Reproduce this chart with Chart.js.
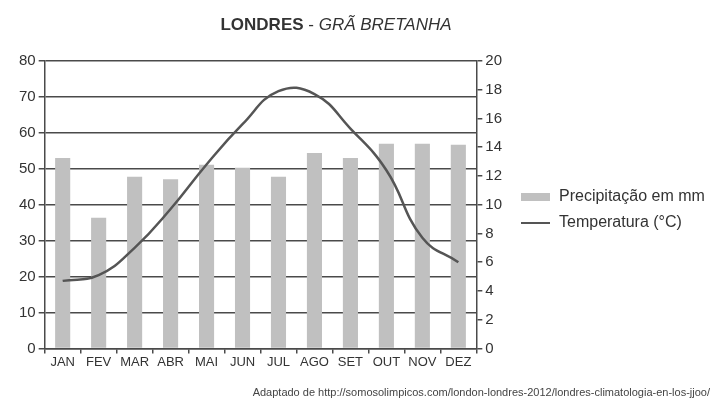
<!DOCTYPE html>
<html>
<head>
<meta charset="utf-8">
<script src="https://cdn.jsdelivr.net/npm/chart.js@4/dist/chart.umd.min.js"></script>
<style>
  body { margin: 0; background: #fff; }
  #wrap { position: relative; width: 712px; height: 402px; font-family: "Liberation Sans", Arial, sans-serif; color: #333; }
  #title { position: absolute; top: 15px; left: 0; width: 672px; text-align: center; font-size: 17px; }
  #source { position: absolute; right: 2px; top: 386px; font-size: 11px; color: #444; }
  .legend { position: absolute; left: 521px; font-size: 16px; color: #333; white-space: nowrap; }
  .legend span { display: inline-block; width: 29px; margin-right: 9px; vertical-align: middle; }
  .legend .box { height: 8px; background: #c0c0c0; }
  .legend .line { height: 2.5px; background: #555; }
</style>
</head>
<body>
<div id="wrap">
  <canvas id="climaChart" width="712" height="402"></canvas>
  <div id="title"><b>LONDRES</b> - <i>GRÃ BRETANHA</i></div>
  <div class="legend" style="top:187px"><span class="box"></span>Precipitação em mm</div>
  <div class="legend" style="top:213px"><span class="line"></span>Temperatura (°C)</div>
  <div id="source">Adaptado de http://somosolimpicos.com/london-londres-2012/londres-climatologia-en-los-jjoo/</div>
</div>
<script>
const months = ['JAN', 'FEV', 'MAR', 'ABR', 'MAI', 'JUN', 'JUL', 'AGO', 'SET', 'OUT', 'NOV', 'DEZ'];
const precipitation = [53, 36.4, 47.8, 47.1, 51.1, 50.3, 47.8, 54.4, 53, 57, 57, 56.7];
const temperature = [4.7, 5.1, 7.0, 9.7, 12.8, 15.6, 17.9, 17.7, 15.3, 12.4, 7.7, 6.0];
const precipTicks = [0, 10, 20, 30, 40, 50, 60, 70, 80];
const tempTicks = [0, 2, 4, 6, 8, 10, 12, 14, 16, 18, 20];

const ctx = document.getElementById('climaChart');
const gridColor = '#4a4a4a';
const font = { family: '"Liberation Sans", Arial, sans-serif', size: 15 };

new Chart(ctx, {
    data: {
        labels: months,
        datasets: [{
            type: 'line',
            label: 'Temperatura (°C)',
            data: temperature,
            yAxisID: 'yTemp',
            borderColor: '#555',
            borderWidth: 2.5,
            pointRadius: 0,
            tension: 0.45,
            order: 0
        }, {
            type: 'bar',
            label: 'Precipitação em mm',
            data: precipitation,
            yAxisID: 'yPrec',
            backgroundColor: '#c0c0c0',
            barPercentage: 0.42,
            categoryPercentage: 1,
            order: 1
        }]
    },
    options: {
        responsive: false,
        animation: false,
        layout: { padding: { top: 61, bottom: 31, left: 16, right: 207 } },
        plugins: {
            legend: { display: false },
            tooltip: { enabled: false }
        },
        scales: {
            x: {
                offset: true,
                grid: { offset: true, drawOnChartArea: false, drawTicks: true, tickLength: 5, color: gridColor, lineWidth: 1.5 },
                border: { color: gridColor, width: 1.5 },
                ticks: { color: '#333', font: { family: font.family, size: 13 }, padding: 1, maxRotation: 0, autoSkip: false }
            },
            yPrec: {
                position: 'left',
                min: 0,
                max: 80,
                afterBuildTicks: axis => { axis.ticks = precipTicks.map(v => ({ value: v })); },
                grid: { color: gridColor, lineWidth: 1.5, tickLength: 6 },
                border: { color: gridColor, width: 1.5 },
                ticks: { color: '#333', font: font, padding: 3 }
            },
            yTemp: {
                position: 'right',
                min: 0,
                max: 20,
                afterBuildTicks: axis => { axis.ticks = tempTicks.map(v => ({ value: v })); },
                grid: { drawOnChartArea: false, color: gridColor, lineWidth: 1.5, tickLength: 6 },
                border: { color: gridColor, width: 1.5 },
                ticks: { color: '#333', font: font, padding: 3 }
            }
        }
    }
});
</script>
</body>
</html>
